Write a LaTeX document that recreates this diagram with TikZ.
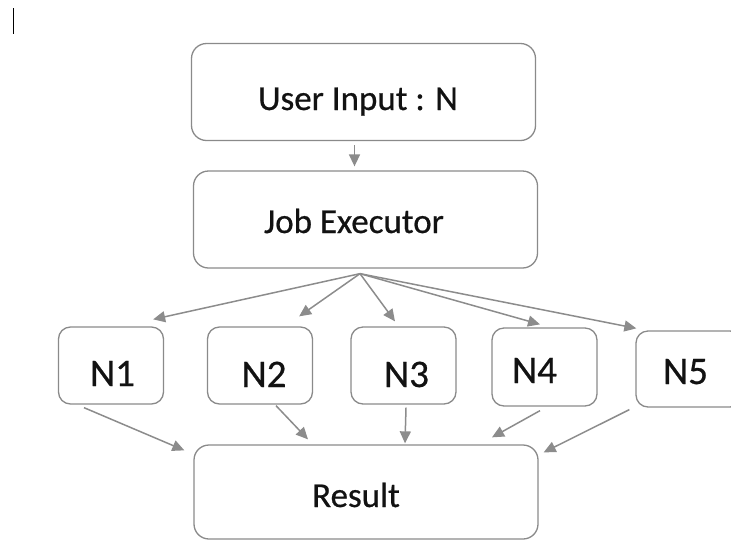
\documentclass[tikz,border=0pt]{standalone}
\usepackage{fontspec}
\setmainfont{Carlito}
\newfontfamily\labelfont[FakeBold=0.6]{Carlito}
\usetikzlibrary{arrows.meta}
\definecolor{boxgray}{HTML}{8A8A8A}
\definecolor{arrowgray}{HTML}{8C8C8C}
\definecolor{ink}{HTML}{121212}
\begin{document}
\begin{tikzpicture}[x=1pt,y=-1pt,
  box/.style={draw=boxgray,line width=1.3pt,rounded corners=15pt,inner sep=0pt},
  bigbox/.style={box,minimum width=344pt,minimum height=97pt},
  smallbox/.style={box,rounded corners=12pt,minimum width=105pt,minimum height=77pt},
  lbl/.style={anchor=base,text=ink,font=\labelfont\fontsize{35}{40}\selectfont,inner sep=0pt},
  nlbl/.style={lbl,font=\labelfont\fontsize{39}{44}\selectfont},
  flow/.style={draw=arrowgray,line width=1.5pt,-{Triangle[length=12pt,width=11pt]}}]
% page frame
\useasboundingbox (0,0) rectangle (731,542);
\clip (0,0) rectangle (731,542);

% text cursor mark in the corner
\draw[black,line width=1.3pt] (13.5,8) -- (13.5,34);

% main boxes
\node[bigbox] (ui)  at (363.5,92)  {};
\node[bigbox] (je)  at (365.5,219.5) {};
\node[bigbox,minimum height=94pt] (res) at (366,492) {};

% worker boxes
\node[smallbox] (n1) at (111,365.5) {};
\node[smallbox] (n2) at (260,365.5) {};
\node[smallbox] (n3) at (403.5,365.5) {};
\node[smallbox,minimum height=78pt] (n4) at (544.5,367) {};
\node[smallbox,minimum width=106pt,minimum height=76pt] (n5) at (689,369) {};

% labels
\node[lbl]  (uiT)  at (358,110) {User Input : N};
\node[lbl]  (jeT)  at (354,233) {Job Executor};
\node[lbl]  (resT) at (356,507) {Result};
\node[nlbl] (n1T)  at (112.5,386) {N1};
\node[nlbl] (n2T)  at (264,387) {N2};
\node[nlbl] (n3T)  at (406.5,387) {N3};
\node[nlbl] (n4T)  at (534.5,383) {N4};
\node[nlbl] (n5T)  at (685.5,384) {N5};

% input to executor
\draw[flow] ([xshift=-9pt,yshift=-4pt]ui.south) -- ([xshift=-11pt,yshift=4pt]je.north);

% executor fans out to the workers
\coordinate (fan) at ([xshift=-5.5pt,yshift=-5pt]je.south);
\draw[flow] (fan) -- ([xshift=-11pt,yshift=7pt]n1.north east);
\draw[flow] (fan) -- ([xshift=-14pt,yshift=10pt]n2.north east);
\draw[flow] (fan) -- ([xshift=-8.5pt,yshift=5pt]n3.north);
\draw[flow] (fan) -- ([xshift=-4.5pt,yshift=3pt]n4.north);
\draw[flow] (fan) -- ([xshift=1pt,yshift=2pt]n5.north west);

% workers feed the result
\draw[flow] ([xshift=-27pt,yshift=-3pt]n1.south) -- ([xshift=-9pt,yshift=-6pt]res.north west);
\draw[flow] ([xshift=16pt,yshift=-1pt]n2.south) -- ([xshift=-58pt,yshift=5pt]res.north);
\draw[flow] ([xshift=2.5pt,yshift=-3pt]n3.south) -- ([xshift=39pt,yshift=1pt]res.north);
\draw[flow] ([xshift=-4.5pt,yshift=-4pt]n4.south) -- ([xshift=126pt,yshift=7pt]res.north);
\draw[flow] ([xshift=-6pt,yshift=-2pt]n5.south west) -- ([xshift=5pt,yshift=-8pt]res.north east);
\end{tikzpicture}
\end{document}
